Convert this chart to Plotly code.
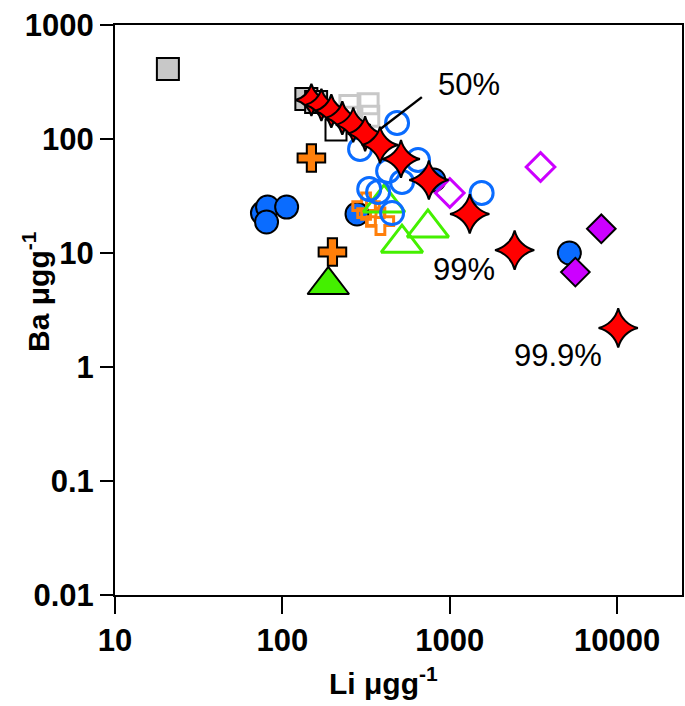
import math
import plotly.graph_objects as go

# ---------------- data (Li, Ba in µg/g) ----------------
gray_sq_li = [20.7, 139, 159]
gray_sq_ba = [411, 224, 211]

lgray_open_sq_li = [253, 325, 260, 328]
lgray_open_sq_ba = [197, 204, 155, 158]

black_open_sq_li = [209]
black_open_sq_ba = [120]

blue_fill_li = [76, 81.5, 106, 80.4, 279, 803, 5176]
blue_fill_ba = [22.4, 25.3, 25.3, 18.7, 22.0, 43.7, 10.0]

blue_open_li = [484, 291, 646, 428, 518, 330, 373, 452, 1549]
blue_open_ba = [138, 81.7, 65.4, 52.4, 42.0, 36.4, 34.3, 22.4, 33.6]

orange_fill_li = [149, 199]
orange_fill_ba = [68.1, 10.2]

orange_open_li = [316, 338, 385]
orange_open_ba = [25.8, 22.4, 19.0]

green_open_li = [405, 740, 518]
green_open_ba = [27.5, 16.6, 12.2]

green_fill_li = [188]
green_fill_ba = [5.24]

mag_open_li = [1000, 3483]
mag_open_ba = [33.6, 56.8]

mag_fill_li = [8035, 5623]
mag_fill_ba = [16.3, 6.8]

star_li = [149, 171, 196, 228, 265, 312, 383, 511, 750, 1315, 2440, 10140]
star_ba = [220, 199, 176, 153, 133, 111, 88.5, 66.8, 43.7, 22.0, 10.6, 2.2]
star_size = [23, 23, 24, 24, 25, 25, 26, 27, 28, 28, 28, 28]

leader_li = [378, 681]
leader_ba = [120, 233]

labels = ["50%", "99%", "99.9%"]
label_li = [1297, 1211, 4400]
label_ba = [303, 7.1, 1.27]

x_ticks = [10, 100, 1000, 10000]
y_ticks = [0.01, 0.1, 1, 10, 100, 1000]
y_ticktext = ["0.01", "0.1", "1", "10", "100", "1000"]

BLUE = "#0a6cff"
ORANGE = "#ff7f0a"
GREEN = "#44f000"
MAG = "#cc00ff"
FONT = "Liberation Sans, Arial"

fig = go.Figure()

def add(x, y, symbol, size, color, line_color=None, line_width=2):
    mk = dict(symbol=symbol, size=size, color=color, opacity=1)
    mk["line"] = dict(color=line_color if line_color else color, width=line_width)
    fig.add_trace(go.Scatter(x=x, y=y, mode="markers", marker=mk,
                             showlegend=False, hoverinfo="skip"))

add(gray_sq_li, gray_sq_ba, "square", 22, "#c8c8c8", "black", 2)
add(lgray_open_sq_li, lgray_open_sq_ba, "square-open", 20, "#c8c8c8", None, 3)
add(black_open_sq_li, black_open_sq_ba, "square-open", 21, "black", None, 2)
add(blue_fill_li, blue_fill_ba, "circle", 23, BLUE, "black", 2)
add(orange_fill_li, orange_fill_ba, "cross", 23, ORANGE, "black", 2)
add(orange_open_li, orange_open_ba, "cross-open", 22, ORANGE, None, 3)
add(green_open_li, green_open_ba, "triangle-up-open", 36, GREEN, None, 3)
add(green_fill_li, green_fill_ba, "triangle-up", 36, GREEN, "black", 2)
add(mag_open_li, mag_open_ba, "diamond-open", 22, MAG, None, 3)
add(mag_fill_li, mag_fill_ba, "diamond", 22, MAG, "black", 2)
add(blue_open_li, blue_open_ba, "circle-open", 23, BLUE, None, 3)

fig.add_trace(go.Scatter(x=leader_li, y=leader_ba, mode="lines",
                         line=dict(color="black", width=2.5),
                         showlegend=False, hoverinfo="skip"))

fig.add_trace(go.Scatter(x=star_li, y=star_ba, mode="markers",
                         marker=dict(symbol="star-diamond", size=star_size, color="#ff0000",
                                     opacity=1, line=dict(color="black", width=2)),
                         showlegend=False, hoverinfo="skip"))

for t, lx, ly in zip(labels, label_li, label_ba):
    fig.add_annotation(x=math.log10(lx), y=math.log10(ly), text=t, showarrow=False,
                       xref="x", yref="y", xanchor="center", yanchor="middle",
                       font=dict(family=FONT, size=31, color="black"))

fig.add_annotation(x=0.474, y=-0.151, xref="paper", yref="paper", showarrow=False,
                   xanchor="center", yanchor="middle",
                   text="<b>Li μgg<sup>-1</sup></b>",
                   font=dict(family=FONT, size=30, color="black"))
fig.add_annotation(x=-0.139, y=0.532, xref="paper", yref="paper", showarrow=False,
                   xanchor="center", yanchor="middle",
                   text="<b>Ba μgg<sup>-1</sup></b>", textangle=-90,
                   font=dict(family=FONT, size=30, color="black"))

axis_common = dict(type="log", showgrid=False, zeroline=False, showline=True,
                   linecolor="black", linewidth=2, mirror=True, ticks="outside",
                   tickcolor="black", tickwidth=2)

fig.update_xaxes(range=[1, 4.387], tickvals=x_ticks,
                 ticktext=[str(v) for v in x_ticks], ticklen=17,
                 tickfont=dict(family=FONT, size=31, color="black", weight="bold"),
                 **axis_common)
fig.update_yaxes(range=[-2, 3], tickvals=y_ticks, ticktext=y_ticktext, ticklen=13,
                 tickfont=dict(family=FONT, size=31, color="black", weight="bold"),
                 **axis_common)

fig.update_layout(width=685, height=706, margin=dict(l=115, r=1, t=25, b=111),
                  paper_bgcolor="white", plot_bgcolor="white")

fig.write_html("out.html")
